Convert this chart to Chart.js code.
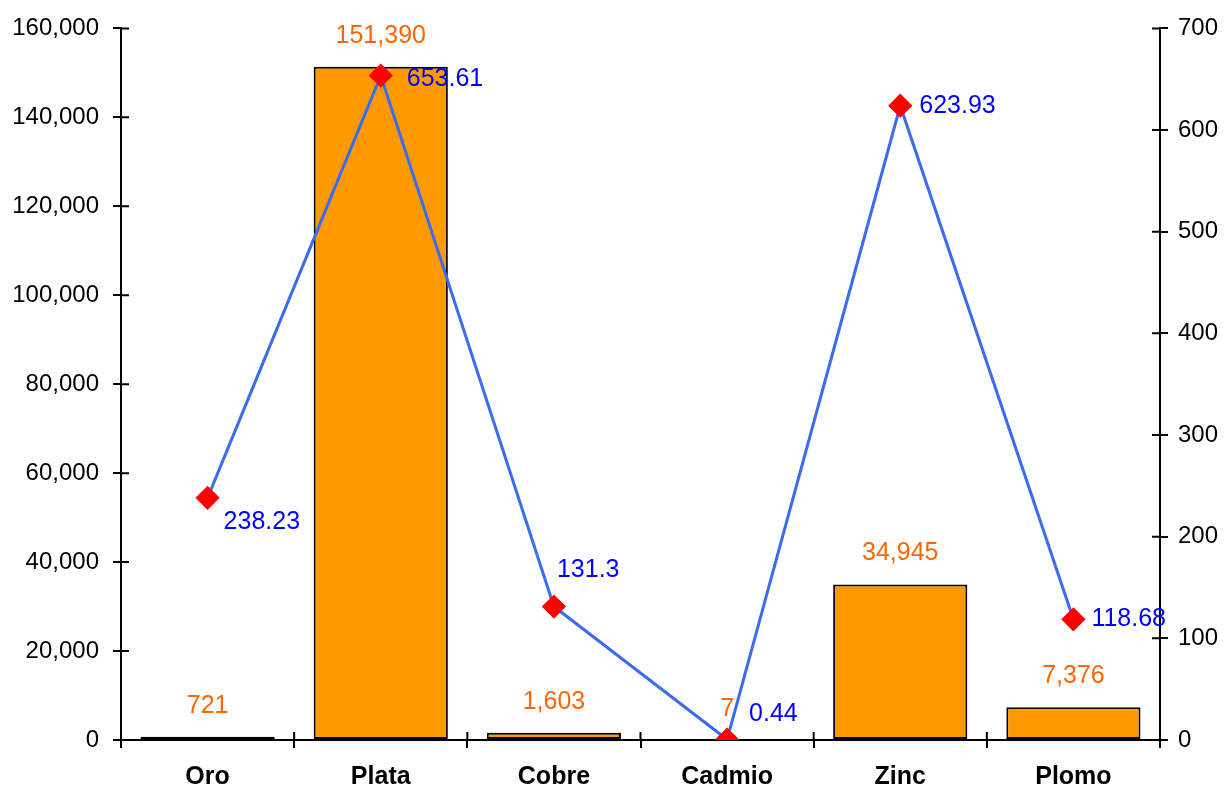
<!DOCTYPE html>
<html>
<head>
<script src="https://cdn.jsdelivr.net/npm/chart.js"></script>
<style>
  body { margin: 0; background: #fff; }
  #wrap { width: 1230px; height: 790px; }
</style>
</head>

<body>
<div id="wrap">
  <canvas id="myChart"></canvas>
</div>

<script>
  // data
  const metals = ['Oro', 'Plata', 'Cobre', 'Cadmio', 'Zinc', 'Plomo'];
  const barValues = [721, 151390, 1603, 7, 34945, 7376];
  const lineValues = [238.23, 653.61, 131.3, 0.44, 623.93, 118.68];
  const lineLabels = ['238.23', '653.61', '131.3', '0.44', '623.93', '118.68'];

  // where each blue label sits relative to its point (dx, dy)
  const lineLabelShift = [[16, 24], [26, 4], [3, -36], [22, -25], [19, 0], [18, 0]];

  const FONT = '"Liberation Sans", Arial, sans-serif';
  const ctx = document.getElementById('myChart');

  // short ticks on the inner side of the axes so they cross the axis line
  const innerTicks = {
    id: 'innerTicks',
    afterDraw(chart) {
      const c = chart.ctx;
      const x = chart.scales.x, yl = chart.scales.y, yr = chart.scales.y2;
      c.save();
      c.strokeStyle = '#000';
      c.lineWidth = 2;
      c.beginPath();
      yl.ticks.forEach((t, i) => {
        const py = yl.getPixelForTick(i);
        c.moveTo(yl.right, py); c.lineTo(yl.right + 8, py);
      });
      yr.ticks.forEach((t, i) => {
        const py = yr.getPixelForTick(i);
        c.moveTo(yr.left - 8, py); c.lineTo(yr.left, py);
      });
      const n = metals.length;
      for (let i = 0; i <= n; i++) {
        const px = x.left + i * x.width / n;
        c.moveTo(px, x.top - 8); c.lineTo(px, x.top);
      }
      c.stroke();
      c.restore();
    }
  };

  const valueLabels = {
    id: 'valueLabels',
    afterDatasetsDraw(chart) {
      const c = chart.ctx;
      c.save();
      c.font = '25px ' + FONT;
      const bars = chart.getDatasetMeta(0).data;
      c.fillStyle = '#FF6600';
      c.textAlign = 'center';
      c.textBaseline = 'middle';
      bars.forEach((b, i) => {
        c.fillText(barValues[i].toLocaleString('en-US'), b.x, b.y - 31);
      });
      const pts = chart.getDatasetMeta(1).data;
      c.fillStyle = '#0000FF';
      c.textAlign = 'left';
      pts.forEach((p, i) => {
        c.fillText(lineLabels[i], p.x + lineLabelShift[i][0], p.y + lineLabelShift[i][1]);
      });
      c.restore();
    }
  };

  new Chart(ctx, {
    data: {
      labels: metals,
      datasets: [{
        type: 'bar',
        data: barValues,
        yAxisID: 'y',
        backgroundColor: '#FF9900',
        borderColor: '#000',
        borderWidth: 2,
        borderSkipped: false,
        barPercentage: 0.775,
        categoryPercentage: 1,
        order: 1
      }, {
        type: 'line',
        data: lineValues,
        yAxisID: 'y2',
        borderColor: '#3A6BF0',
        borderWidth: 3,
        pointStyle: 'rectRot',
        pointRadius: 10,
        pointBackgroundColor: '#FF0000',
        pointBorderColor: '#FF0000',
        tension: 0,
        order: 0
      }]
    },
    options: {
      responsive: true,
      maintainAspectRatio: false,
      animation: false,
      layout: { padding: { top: 27, left: 0, right: 0, bottom: 0 } },
      plugins: { legend: { display: false }, tooltip: { enabled: false } },
      scales: {
        x: {
          offset: true,
          grid: { offset: true, drawOnChartArea: false, color: '#000', lineWidth: 2, tickLength: 8 },
          border: { color: '#000', width: 2 },
          ticks: { color: '#000', font: { family: FONT, size: 25, weight: 'bold' }, padding: 14 },
          afterFit(s) { s.height = 50; }
        },
        y: {
          position: 'left',
          min: 0, max: 160000,
          ticks: { stepSize: 20000, color: '#000', font: { family: FONT, size: 24 }, padding: 14,
                   callback: v => v.toLocaleString('en-US') },
          grid: { drawOnChartArea: false, color: '#000', lineWidth: 2, tickLength: 8 },
          border: { color: '#000', width: 2 },
          afterFit(s) { s.width = 121; }
        },
        y2: {
          position: 'right',
          min: 0, max: 700,
          ticks: { stepSize: 100, color: '#000', font: { family: FONT, size: 24 }, padding: 10 },
          grid: { drawOnChartArea: false, color: '#000', lineWidth: 2, tickLength: 8 },
          border: { color: '#000', width: 2 },
          afterFit(s) { s.width = 70; }
        }
      }
    },
    plugins: [innerTicks, valueLabels]
  });
</script>
</body>
</html>
